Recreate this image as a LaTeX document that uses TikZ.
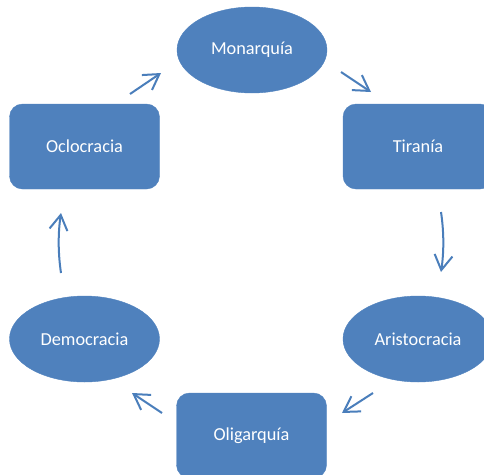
\documentclass[tikz,border=0pt]{standalone}
\usepackage{fontspec}
\setmainfont{Carlito}
\usetikzlibrary{shapes.geometric,arrows.meta}
\definecolor{officeblue}{HTML}{4F81BD}
\definecolor{arrowblue}{HTML}{4A7EBB}
\tikzset{
  boxshape/.style={draw=officeblue, fill=officeblue, rounded corners=13pt, minimum width=150pt, minimum height=85pt, text=white, font=\fontsize{18.3}{22}\selectfont, inner sep=0pt},
  ovalshape/.style={ellipse, draw=officeblue, fill=officeblue, minimum width=150pt, minimum height=86pt, text=white, font=\fontsize{18.3}{22}\selectfont, inner sep=0pt},
  cyclearrow/.style={draw=arrowblue, line width=2pt, -{Straight Barb[length=15pt,width=18pt]}}
}
\begin{document}
\begin{tikzpicture}[x=1pt,y=-1pt]
\useasboundingbox (0,0) rectangle (484,474);
\clip (0,0) rectangle (484,474);
\node[ovalshape] (mon) at (252,50) {Monarquía};
\node[boxshape] (tir) at (418,146.5) {Tiranía};
\node[ovalshape] (ari) at (418,339) {Aristocracia};
\node[boxshape] (oli) at (251.5,435.5) {Oligarquía};
\node[ovalshape] (dem) at (84.5,339) {Democracia};
\node[boxshape] (ocl) at (84.5,146.5) {Oclocracia};
% arrow end points
\coordinate (a1s) at (130,94);
\coordinate (a1e) at (161,73);
\coordinate (a2s) at (341,72);
\coordinate (a2e) at (371,92);
\coordinate (a3s) at (441,212);
\coordinate (a3e) at (441,272);
\coordinate (a4s) at (373,393);
\coordinate (a4e) at (342,413);
\coordinate (a5s) at (162,413);
\coordinate (a5e) at (132,393);
\coordinate (a6s) at (61,273);
\coordinate (a6e) at (61,213);
\draw[cyclearrow] (a1s) -- (a1e);
\draw[cyclearrow] (a2s) -- (a2e);
\draw[cyclearrow] (a3s) .. controls (444,232) and (444,252) .. (a3e);
\draw[cyclearrow] (a4s) -- (a4e);
\draw[cyclearrow] (a5s) -- (a5e);
\draw[cyclearrow] (a6s) .. controls (58,253) and (58,233) .. (a6e);
\end{tikzpicture}
\end{document}
